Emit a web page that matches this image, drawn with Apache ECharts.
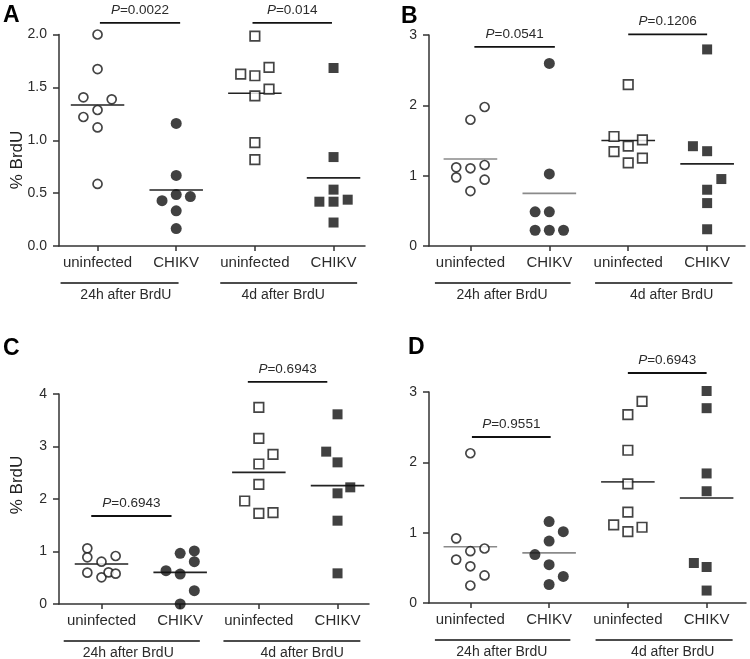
<!DOCTYPE html>
<html><head><meta charset="utf-8">
<script src="https://cdn.jsdelivr.net/npm/echarts@6/dist/echarts.min.js"></script>
<style>html,body{margin:0;padding:0;background:#fff}#c{width:750px;height:659px}</style>
</head><body><div id="c"></div>
<script>
// ---------- data ----------
const categories = ['uninfected', 'CHIKV', 'uninfected', 'CHIKV'];
const timeLabels = ['24h after BrdU', '4d after BrdU'];
const panelLetters = ['A', 'B', 'C', 'D'];

// Panel A (% BrdU), groups: uninfected 24h, CHIKV 24h, uninfected 4d, CHIKV 4d
const A_values = [
  [2.0, 1.673, 1.406, 1.387, 1.286, 1.22, 1.121, 0.587],
  [1.159, 0.667, 0.429, 0.486, 0.467, 0.333, 0.165],
  [1.984, 1.625, 1.610, 1.689, 1.483, 1.419, 0.978, 0.816],
  [1.683, 0.841, 0.533, 0.419, 0.419, 0.438, 0.222]
];
const A_lanes = [[0,0,-1,1,0,-1,0,0],[0,0,-1,0,1,0,0],[0,-1,0,1,1,0,0,0],[0,0,0,-1,0,1,0]];
const A_means = [1.333, 0.530, 1.444, 0.644];
const A_pTexts = ['0.0022', '0.014'];
const A_pLines = [[1.03, 2.05, 2.11], [2.97, 3.98, 2.11]];

// Panel B
const B_values = [
  [1.976, 1.795, 1.119, 1.105, 1.152, 0.976, 0.943, 0.781],
  [2.595, 1.024, 0.486, 0.486, 0.224, 0.224, 0.224],
  [2.295, 1.557, 1.419, 1.510, 1.343, 1.181, 1.248],
  [2.795, 1.419, 1.348, 0.952, 0.800, 0.610, 0.238]
];
const B_lanes = [[1,0,-1,0,1,-1,1,0],[0,0,-1,0,-1,0,1],[0,-1,0,1,-1,0,1],[0,-1,0,1,0,0,0]];
const B_means = [1.238, 0.748, 1.50, 1.167];
const B_pTexts = ['0.0541', '0.1206'];
const B_pLines = [[1.05, 2.07, 2.83], [3.0, 4.0, 3.01]];

// Panel C
const C_values = [
  [1.06, 0.889, 0.806, 0.914, 0.597, 0.508, 0.603, 0.578],
  [0.965, 1.01, 0.806, 0.635, 0.571, 0.254, 0.0],
  [3.746, 3.156, 2.851, 2.667, 2.279, 1.962, 1.727, 1.740],
  [3.613, 2.902, 2.698, 2.222, 2.108, 1.587, 0.584]
];
const C_lanes = [[-1,-1,0,1,-1,0,0.5,1],[0,1,1,-1,0,1,0],[0,0,1,0,0,-1,0,1],[0,-0.8,0,0.9,0,0,0]];
const C_means = [0.762, 0.603, 2.508, 2.254];
const C_pTexts = ['0.6943', '0.6943'];
const C_pLines = [[0.87, 1.89, 1.676], [2.86, 3.87, 4.23]];

// Panel D
const D_values = [
  [2.129, 0.919, 0.737, 0.775, 0.617, 0.522, 0.392, 0.249],
  [1.158, 1.014, 0.880, 0.689, 0.545, 0.378, 0.263],
  [2.866, 2.679, 2.172, 1.694, 1.292, 1.110, 1.014, 1.077],
  [3.014, 2.770, 1.842, 1.589, 0.569, 0.512, 0.177]
];
const D_lanes = [[0,-1,0,1,-1,0,1,0],[0,1,0,-1,0,1,0],[1,0,0,0,0,-1,0,1],[0,0,0,0,-0.9,0,0]];
const D_means = [0.799, 0.713, 1.722, 1.493];
const D_pTexts = ['0.9551', '0.6943'];
const D_pLines = [[1.02, 2.02, 2.36], [3.0, 4.0, 3.27]];

// ---------- layout / style ----------
const FONT = '"Liberation Sans", Arial, sans-serif';
const TXT = '#2b2b2b';
const LANE = 0.18;
const panels = [
  {values:A_values, lanes:A_lanes, means:A_means, pTexts:A_pTexts, pLines:A_pLines,
   yMax:2, yInt:0.5, dec:1, grid:{left:59, top:34.5, width:306, height:211.5}, xMin:0.51, xMax:4.4,
   meanColors:['#222','#222','#222','#222'], letter:[3,4], yName:[17,160],
   tb:[[0.53,2.03],[2.56,4.30]], tt:[1.36,3.36]},
  {values:B_values, lanes:B_lanes, means:B_means, pTexts:B_pTexts, pLines:B_pLines,
   yMax:3, yInt:1, dec:0, grid:{left:429, top:35, width:316, height:211}, xMin:0.475, xMax:4.48,
   meanColors:['#8a8a8a','#8a8a8a','#222','#222'], letter:[401,5], yName:null,
   tb:[[0.55,2.27],[2.58,4.32]], tt:[1.40,3.55]},
  {values:C_values, lanes:C_lanes, means:C_means, pTexts:C_pTexts, pLines:C_pLines,
   yMax:4, yInt:1, dec:0, grid:{left:59, top:394, width:310, height:210}, xMin:0.46, xMax:4.4,
   meanColors:['#222','#222','#222','#222'], letter:[3,337], yName:[17,485],
   tb:[[0.52,2.25],[2.55,4.29]], tt:[1.34,3.55]},
  {values:D_values, lanes:D_lanes, means:D_means, pTexts:D_pTexts, pLines:D_pLines,
   yMax:3, yInt:1, dec:0, grid:{left:429, top:392, width:317, height:211}, xMin:0.475, xMax:4.5,
   meanColors:['#8a8a8a','#8a8a8a','#444','#222'], letter:[408,336], yName:null,
   tb:[[0.55,2.27],[2.59,4.33]], tt:[1.40,3.57]}
];

const chart = echarts.init(document.getElementById('c'));
const grids = [], xAxes = [], yAxes = [], series = [];
panels.forEach((p, k) => {
  grids.push(Object.assign({containLabel:false}, p.grid));
  xAxes.push({type:'value', gridIndex:k, min:p.xMin, max:p.xMax, splitLine:{show:false},
    axisLine:{show:true, onZero:false, lineStyle:{color:'#333', width:1.5}},
    axisTick:{show:true, customValues:[1,2,3,4], length:5, lineStyle:{color:'#333', width:1.5}},
    axisLabel:{show:true, customValues:[1,2,3,4], formatter:v => categories[Math.round(v)-1],
      fontSize:15, color:TXT, margin:9, fontFamily:FONT}});
  yAxes.push({type:'value', gridIndex:k, min:0, max:p.yMax, interval:p.yInt, splitLine:{show:false},
    axisLine:{show:true, onZero:false, lineStyle:{color:'#333', width:1.5}},
    axisTick:{show:true, length:6, lineStyle:{color:'#333', width:1.5}},
    axisLabel:{fontSize:14, color:TXT, margin:12, fontFamily:FONT, formatter:v => v.toFixed(p.dec)}});
  for (let g = 0; g < 4; g++) {
    const open = (g % 2 === 0);
    series.push({type:'line', xAxisIndex:k, yAxisIndex:k, silent:true, z:2, symbol:'none',
      data:[[g+1-0.34, p.means[g]], [g+1+0.34, p.means[g]]],
      lineStyle:{color:p.meanColors[g], width:1.6}});
    series.push({type:'scatter', xAxisIndex:k, yAxisIndex:k, silent:true, z:3, clip:false,
      symbol: g < 2 ? 'circle' : 'rect',
      symbolSize: g < 2 ? (open ? 9 : 11) : (open ? 9.5 : 10),
      data: p.values[g].map((v, i) => [g + 1 + p.lanes[g][i] * LANE, v]),
      itemStyle: open ? {color:'#fff', borderColor:'#151515', borderWidth:1.7} : {color:'#111'}});
  }
});

chart.setOption({animation:false, backgroundColor:'#fff', grid:grids, xAxis:xAxes, yAxis:yAxes, series:series});

// ---------- annotations ----------
const graphics = [];
panels.forEach((p, k) => {
  const toPx = (x, y) => chart.convertToPixel({xAxisIndex:k, yAxisIndex:k}, [x, y]);
  const bottom = p.grid.top + p.grid.height;
  graphics.push({type:'text', x:p.letter[0], y:p.letter[1],
    style:{text:panelLetters[k], font:'bold 23px ' + FONT, fill:'#000', textVerticalAlign:'top'}});
  if (p.yName) {
    graphics.push({type:'text', x:p.yName[0], y:p.yName[1], rotation:Math.PI/2,
      style:{text:'% BrdU', font:'17px ' + FONT, fill:'#222', textAlign:'center', textVerticalAlign:'middle'}});
  }
  p.pLines.forEach((pl, j) => {
    const a = toPx(pl[0], pl[2]), b = toPx(pl[1], pl[2]);
    graphics.push({type:'line', shape:{x1:a[0], y1:a[1], x2:b[0], y2:b[1]}, style:{stroke:'#111', lineWidth:1.8}});
    graphics.push({type:'text', x:(a[0]+b[0])/2, y:a[1]-13,
      style:{text:'{i|P}=' + p.pTexts[j], font:'13.5px ' + FONT, fill:TXT, textAlign:'center', textVerticalAlign:'middle',
        rich:{i:{fontStyle:'italic', fontSize:13.5, fontFamily:FONT, fill:TXT}}}});
  });
  p.tb.forEach((t, j) => {
    const a = toPx(t[0], 0), b = toPx(t[1], 0), c = toPx(p.tt[j], 0);
    graphics.push({type:'line', shape:{x1:a[0], y1:bottom+37, x2:b[0], y2:bottom+37}, style:{stroke:'#111', lineWidth:1.5}});
    graphics.push({type:'text', x:c[0], y:bottom+49,
      style:{text:timeLabels[j], font:'14px ' + FONT, fill:TXT, textAlign:'center', textVerticalAlign:'middle'}});
  });
});
chart.setOption({graphic:graphics});
</script>
</body></html>
